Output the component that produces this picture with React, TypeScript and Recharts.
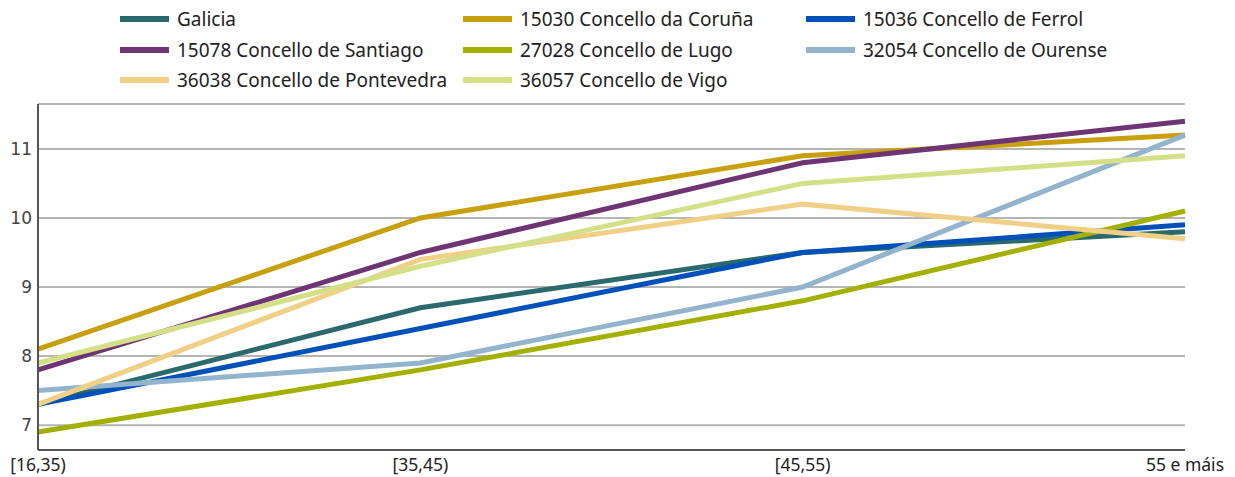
import { CartesianGrid, Line, LineChart, XAxis, YAxis } from "recharts";

const ageGroups = ["[16,35)", "[35,45)", "[45,55)", "55 e máis"];

const galicia = [7.3, 8.7, 9.5, 9.8];
const coruna = [8.1, 10.0, 10.9, 11.2];
const ferrol = [7.3, 8.4, 9.5, 9.9];
const santiago = [7.8, 9.5, 10.8, 11.4];
const lugo = [6.9, 7.8, 8.8, 10.1];
const ourense = [7.5, 7.9, 9.0, 11.2];
const pontevedra = [7.3, 9.4, 10.2, 9.7];
const vigo = [7.9, 9.3, 10.5, 10.9];

const yTicks = [7, 8, 9, 10, 11];

const series = [
	{ key: "galicia", name: "Galicia", color: "#2a6a6c", values: galicia },
	{ key: "coruna", name: "15030 Concello da Coruña", color: "#c8a00e", values: coruna },
	{ key: "ferrol", name: "15036 Concello de Ferrol", color: "#0050b9", values: ferrol },
	{ key: "santiago", name: "15078 Concello de Santiago", color: "#6f3473", values: santiago },
	{ key: "lugo", name: "27028 Concello de Lugo", color: "#a4b000", values: lugo },
	{ key: "ourense", name: "32054 Concello de Ourense", color: "#93b4cd", values: ourense },
	{ key: "pontevedra", name: "36038 Concello de Pontevedra", color: "#f0cf86", values: pontevedra },
	{ key: "vigo", name: "36057 Concello de Vigo", color: "#d3e087", values: vigo },
];

const data = ageGroups.map((age, i) => {
	const row: Record<string, string | number> = { age };
	series.forEach((s) => {
		row[s.key] = s.values[i];
	});
	return row;
});

// legend columns: where each symbol starts
const legendCols = [120, 463, 806];

export default function App() {
	return (
		<div
			style={{
				position: "absolute",
				left: 0,
				top: 0,
				width: 1235,
				height: 477,
				fontFamily: "'Noto Sans', sans-serif",
				background: "#fff",
			}}
		>
			{series.map((s, i) => (
				<div
					key={s.key}
					style={{
						position: "absolute",
						left: legendCols[i % 3],
						top: 19 + Math.floor(i / 3) * 30.5 - 13,
						height: 26,
						display: "flex",
						alignItems: "center",
						fontSize: 19,
						color: "#222",
						whiteSpace: "nowrap",
					}}
				>
					<span
						style={{
							display: "inline-block",
							width: 49,
							height: 6,
							background: s.color,
							marginRight: 8,
						}}
					/>
					{s.name}
				</div>
			))}
			<LineChart
				data={data}
				height={477}
				margin={{ top: 104, right: 50, left: 0, bottom: 0 }}
				width={1235}
			>
				<CartesianGrid
					stroke="#b4b4b4"
					strokeWidth={2}
					vertical={false}
				/>
				<XAxis
					axisLine={{ stroke: "#555", strokeWidth: 2 }}
					dataKey="age"
					height={27}
					interval={0}
					padding={{ left: 0, right: 0 }}
					scale="point"
					tick={{ fill: "#222", fontSize: 17.5 }}
					tickLine={false}
					tickMargin={9}
					tickSize={0}
				/>
				<YAxis
					allowDataOverflow
					axisLine={{ stroke: "#555", strokeWidth: 2 }}
					domain={[6.64, 11.65]}
					tick={{ fill: "#444", fontSize: 17, fontFamily: "'DejaVu Sans', sans-serif" }}
					tickLine={false}
					tickMargin={6}
					tickSize={0}
					ticks={yTicks}
					type="number"
					width={38}
				/>
				{series.map((s) => (
					<Line
						dataKey={s.key}
						dot={false}
						isAnimationActive={false}
						key={s.key}
						name={s.name}
						stroke={s.color}
						strokeWidth={5}
						type="linear"
					/>
				))}
			</LineChart>
		</div>
	);
}
